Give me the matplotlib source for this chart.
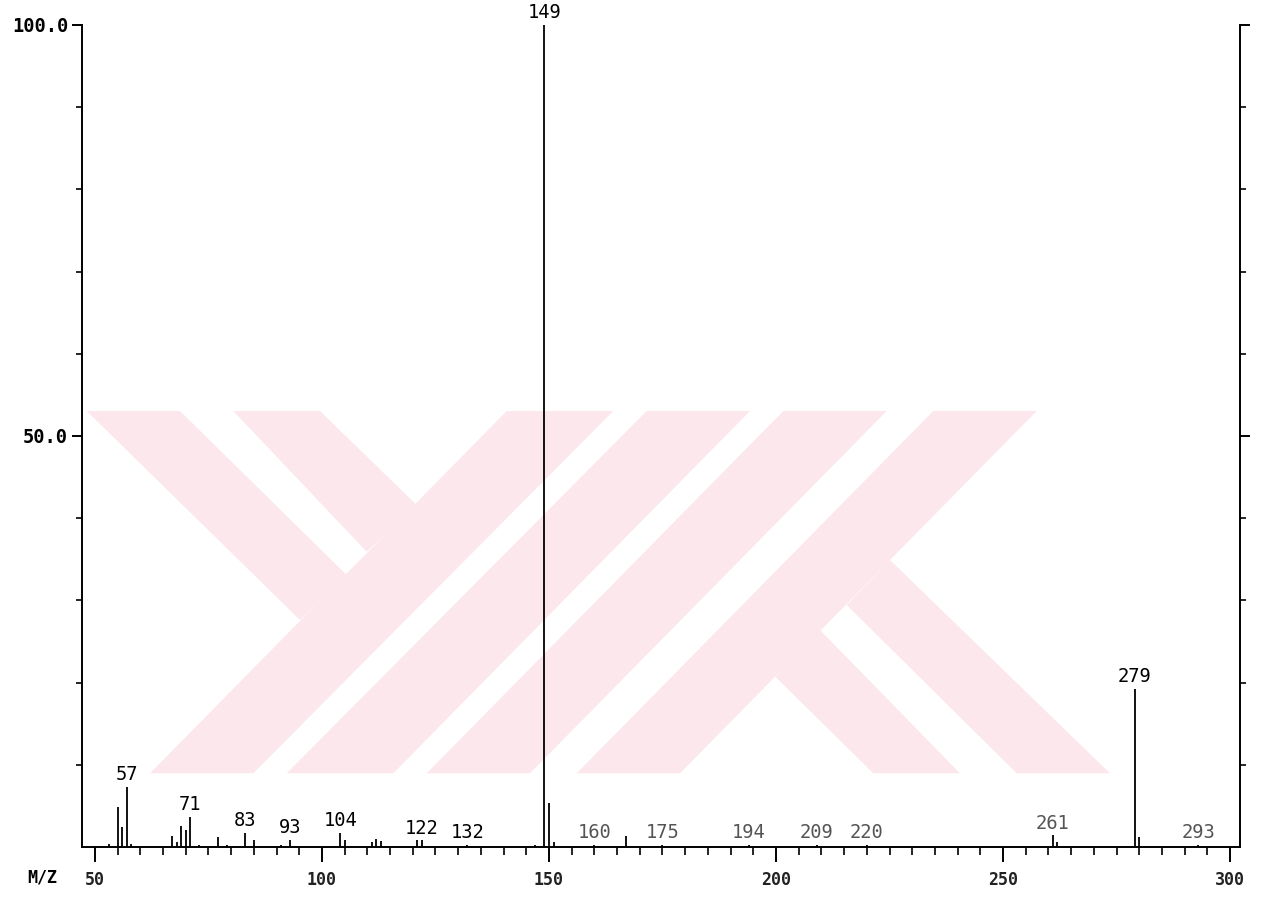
import numpy as np
from matplotlib import pyplot as plt
from matplotlib.patches import Polygon

# peak list (m/z, relative intensity %)
mz = [53, 55, 56, 57, 58, 67, 68, 69, 70, 71, 73, 77, 79, 83, 85, 91, 93,
      104, 105, 111, 112, 113, 121, 122, 132, 147, 149, 150, 151, 160, 167,
      175, 194, 209, 220, 261, 262, 279, 280, 293]
intensity = [0.4, 4.9, 2.4, 7.3, 0.4, 1.3, 0.6, 2.6, 2.1, 3.7, 0.2, 1.2, 0.3, 1.7, 0.8, 0.2, 0.9,
             1.7, 0.8, 0.6, 1.0, 0.7, 0.8, 0.8, 0.2, 0.3, 100.0, 5.4, 0.6, 0.3, 1.3,
             0.2, 0.3, 0.3, 0.2, 1.4, 0.6, 19.2, 1.2, 0.2]

# peaks that carry a printed m/z label
label_mz = [57, 71, 83, 93, 104, 122, 132, 149, 160, 175, 194, 209, 220, 261, 279, 293]
faint_labels = [160, 175, 194, 209, 220, 261, 293]

x_ticks = [50, 100, 150, 200, 250, 300]
y_ticks = [50, 100]
y_tick_labels = ['50.0', '100.0']

W, H = 1279, 898


def px(x, y):
    # pixel position on the page -> figure fraction
    return (x / W, 1 - y / H)


def draw_watermark(fig):
    # pale pink background stamp of the scanned page
    shapes = [
        [(506.7, 411), (613.3, 411), (253.3, 773.3), (150, 773.3)],
        [(646.7, 411), (750, 411), (393.3, 773.3), (286.7, 773.3)],
        [(783.3, 411), (886.7, 411), (530, 773.3), (426.7, 773.3)],
        [(933.3, 411), (1036.7, 411), (680, 773.3), (576.7, 773.3)],
        [(86.7, 411), (180, 411), (346.7, 575), (300, 620)],
        [(233.3, 411), (320, 411), (416.7, 505), (366.7, 551.7)],
        [(775.3, 676.7), (820, 630), (960, 773.3), (873.3, 773.3)],
        [(846.7, 605), (890, 560), (1110, 773.3), (1016.7, 773.3)],
    ]
    for s in shapes:
        poly = Polygon([px(x, y) for x, y in s], closed=True, transform=fig.transFigure,
                       facecolor='#fce8ec', edgecolor='none', zorder=-5)
        fig.patches.append(poly)


fig = plt.figure(figsize=(W / 100, H / 100), dpi=100)
fig.patch.set_facecolor('white')
draw_watermark(fig)

ax = fig.add_axes([82 / W, 51 / H, 1158 / W, 822 / H])
ax.set_facecolor('none')
ax.set_xlim(47.14, 302.2)
ax.set_ylim(0, 100)

ax.vlines(mz, 0, intensity, color='black', lw=1.3)

lookup = dict(zip(mz, intensity))
for m in label_mz:
    h = max(lookup.get(m, 0), 0.3)
    col = '#555555' if m in faint_labels else 'black'
    ax.annotate(str(m), (m, h), xytext=(0, 2), textcoords='offset points',
                ha='center', va='bottom', fontsize=13.5, family='DejaVu Sans Mono',
                color=col, annotation_clip=False)

for side in ['left', 'right', 'bottom']:
    ax.spines[side].set_linewidth(1.4)
ax.spines['top'].set_visible(False)

ax.set_xticks(x_ticks)
ax.set_xticks(np.arange(50, 305, 5), minor=True)
ax.set_xticklabels([str(t) for t in x_ticks], fontsize=12, family='DejaVu Sans Mono',
                   fontweight='bold', color='#222222')
ax.tick_params(axis='x', which='major', direction='out', length=11, width=1.4, pad=6)
ax.tick_params(axis='x', which='minor', direction='out', length=6, width=1.2)

ax.set_yticks(y_ticks)
ax.set_yticks(np.arange(10, 100, 10), minor=True)
ax.set_yticklabels(y_tick_labels, fontsize=13.5, family='DejaVu Sans Mono', fontweight='bold')
ax.tick_params(axis='y', which='major', direction='out', length=7, width=1.4, pad=3,
               right=True)
ax.tick_params(axis='y', which='minor', direction='out', length=4, width=1.2, right=True)

fig.text(42 / W, 1 - 877 / H, 'M/Z', ha='center', va='center', fontsize=12,
         family='DejaVu Sans Mono', fontweight='bold')

plt.savefig('out.png', dpi=100)
